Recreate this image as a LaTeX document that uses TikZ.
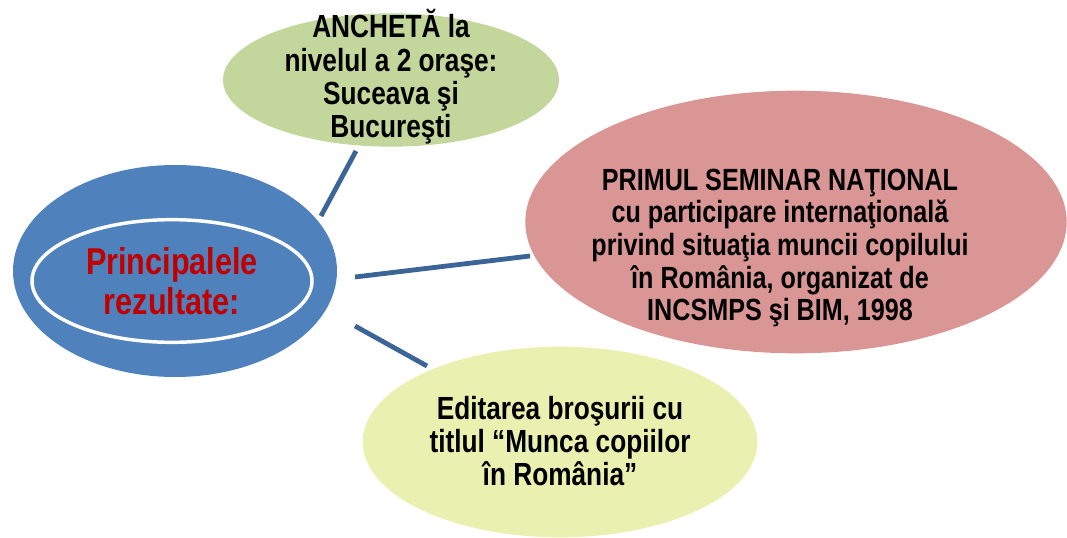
\documentclass[tikz,border=0pt]{standalone}
\usepackage{fontspec}
\setmainfont{Liberation Sans}[FakeStretch=0.82]
\usetikzlibrary{shapes.geometric}
\definecolor{cblue}{HTML}{4F81BD}
\definecolor{cline}{HTML}{3B6497}
\definecolor{cgreen}{HTML}{C3D69B}
\definecolor{cpink}{HTML}{D99694}
\definecolor{cyellow}{HTML}{E9F0B0}
\definecolor{cred}{HTML}{C00000}
\tikzset{
  bubble/.style={ellipse, inner sep=0pt, align=center, font=\bfseries},
  link/.style={draw=cline, line width=3.6pt}
}
\begin{document}
\begin{tikzpicture}[x=0.75pt,y=-0.75pt]
\useasboundingbox (0,0) rectangle (1067,538);
% nodes
\node[bubble, fill=cgreen, minimum width=252pt, minimum height=100pt] (green) at (391,80) {};
\node[bubble, fill=cpink, minimum width=406pt, minimum height=197pt] (pink) at (796,222) {};
\node[bubble, fill=cyellow, minimum width=296pt, minimum height=143pt] (yellow) at (560,442) {};
\node[bubble, fill=cblue, minimum width=243pt, minimum height=159pt] (blue) at (175,271) {};
\node[bubble, draw=white, line width=2.6pt, minimum width=210pt, minimum height=92pt] (ring) at (172,281) {};
% texts
\node[align=center, font=\fontsize{24pt}{25pt}\selectfont\bfseries] (tgreen) at (391,77) {ANCHETĂ la\\nivelul a 2 oraşe:\\Suceava şi\\Bucureşti};
\node[align=center, font=\fontsize{23pt}{24.5pt}\selectfont\bfseries] (tpink) at (780,248) {PRIMUL SEMINAR NAŢIONAL\\cu participare internaţională\\privind situaţia muncii copilului\\în România, organizat de\\INCSMPS şi BIM, 1998};
\node[align=center, font=\fontsize{24pt}{25pt}\selectfont\bfseries] (tyellow) at (560,441) {Editarea broşurii cu\\titlul “Munca copiilor\\în România”};
\node[align=center, text=cred, font=\fontsize{28pt}{30pt}\selectfont\bfseries] (tblue) at (172,281) {Principalele\\rezultate:};
% connectors
\coordinate (g1) at (321,216); \coordinate (g2) at (356,151);
\coordinate (p1) at (355,277); \coordinate (p2) at (530,256);
\coordinate (y1) at (355,326); \coordinate (y2) at (427,366);
\draw[link] (g1) -- (g2);
\draw[link] (p1) -- (p2);
\draw[link] (y1) -- (y2);
\end{tikzpicture}
\end{document}
